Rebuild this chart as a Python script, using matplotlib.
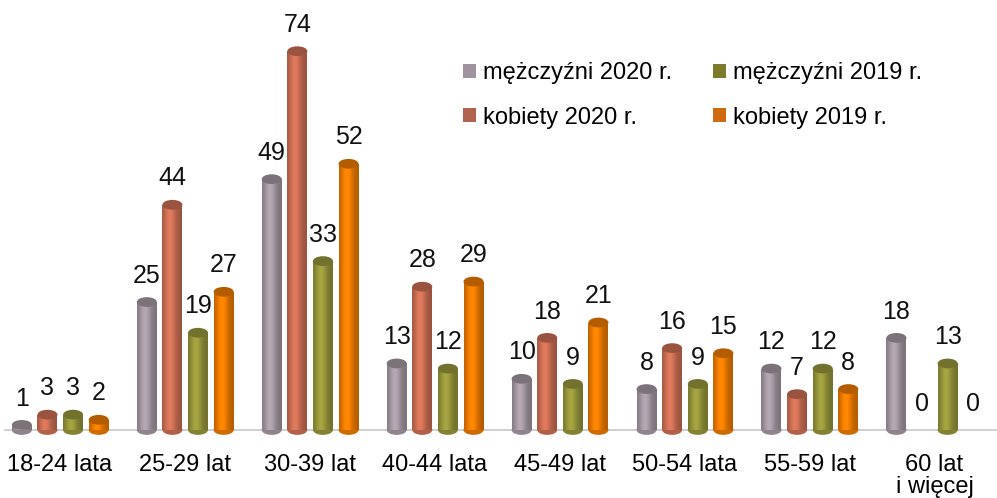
import numpy as np
import matplotlib.pyplot as plt
from matplotlib.patches import Ellipse, Rectangle
from matplotlib.colors import to_rgb

plt.rcParams['font.family'] = ['Liberation Sans', 'DejaVu Sans']

categories = ['18-24 lata', '25-29 lat', '30-39 lat', '40-44 lata', '45-49 lat',
              '50-54 lata', '55-59 lat', '60 lat\ni więcej']
men_2020 = [1, 25, 49, 13, 10, 8, 12, 18]
women_2020 = [3, 44, 74, 28, 18, 16, 7, 0]
men_2019 = [3, 19, 33, 12, 9, 9, 12, 13]
women_2019 = [2, 27, 52, 29, 21, 15, 8, 0]
series_labels = ['mężczyźni 2020 r.', 'kobiety 2020 r.', 'mężczyźni 2019 r.', 'kobiety 2019 r.']
series = [men_2020, women_2020, men_2019, women_2019]
colors = ['#9b8f99', '#c0684f', '#8e8d38', '#e07400']
legend_colors = ['#a0929e', '#b0644e', '#7c7b2b', '#d06a10']

fig = plt.figure(figsize=(9.97, 4.98), dpi=100)
ax = fig.add_axes([0.005, 68 / 498, 0.995, 430 / 498])

x = np.arange(len(categories))
width = 0.16
offsets = [-0.305, -0.1, 0.105, 0.31]
cap_h = 1.9

# horizontal shading profile for the cylinder look
t = np.linspace(0, 1, 64)
prof = 0.80 + 0.38 * np.exp(-((t - 0.4) / 0.3) ** 2)

handles = []
for vals, off, col, lcol, lab in zip(series, offsets, colors, legend_colors, series_labels):
    base = np.array(to_rgb(col))
    img = np.clip(base[None, :] * prof[:, None], 0, 1)[None, :, :]
    for xi, v in zip(x + off, vals):
        x0 = xi - width / 2
        if v > 0:
            rect = Rectangle((x0, 0), width, v, facecolor='none', edgecolor='none')
            ax.add_patch(rect)
            im = ax.imshow(img, extent=(x0, x0 + width, 0, v), aspect='auto',
                           interpolation='bilinear', zorder=2)
            im.set_clip_path(rect)
            bot = Ellipse((xi, 0), width, cap_h, facecolor=base * 0.92,
                          edgecolor='none', zorder=1.9, clip_on=False)
            ax.add_patch(bot)
            top = Ellipse((xi, v), width, cap_h, facecolor=np.clip(base * 0.8, 0, 1),
                          edgecolor='none', zorder=3)
            ax.add_patch(top)
        ax.text(xi, v + 2.8, str(v), ha='center', va='bottom', fontsize=18, color='#111111')
    handles.append(Rectangle((0, 0), 1, 1, facecolor=lcol, edgecolor='none', label=lab))

ax.set_xlim(-0.44, 7.5)
ax.set_ylim(0, 84)
ax.set_yticks([])
ax.set_xticks(x)
ax.set_xticklabels(categories, fontsize=17, linespacing=1.05)
ax.tick_params(axis='x', length=0, pad=17)
for s in ['top', 'right', 'left']:
    ax.spines[s].set_visible(False)
ax.spines['bottom'].set_color('#c8c8c8')
ax.spines['bottom'].set_linewidth(1.2)
ax.spines['bottom'].set_zorder(1.5)

ax.legend(handles=handles, ncol=2, loc='upper left', bbox_to_anchor=(0.44, 0.905),
          frameon=False, fontsize=17, handlelength=0.55, handleheight=0.55,
          handletextpad=0.3, columnspacing=1.75, labelspacing=0.95)

fig.savefig('out.png', dpi=100)
